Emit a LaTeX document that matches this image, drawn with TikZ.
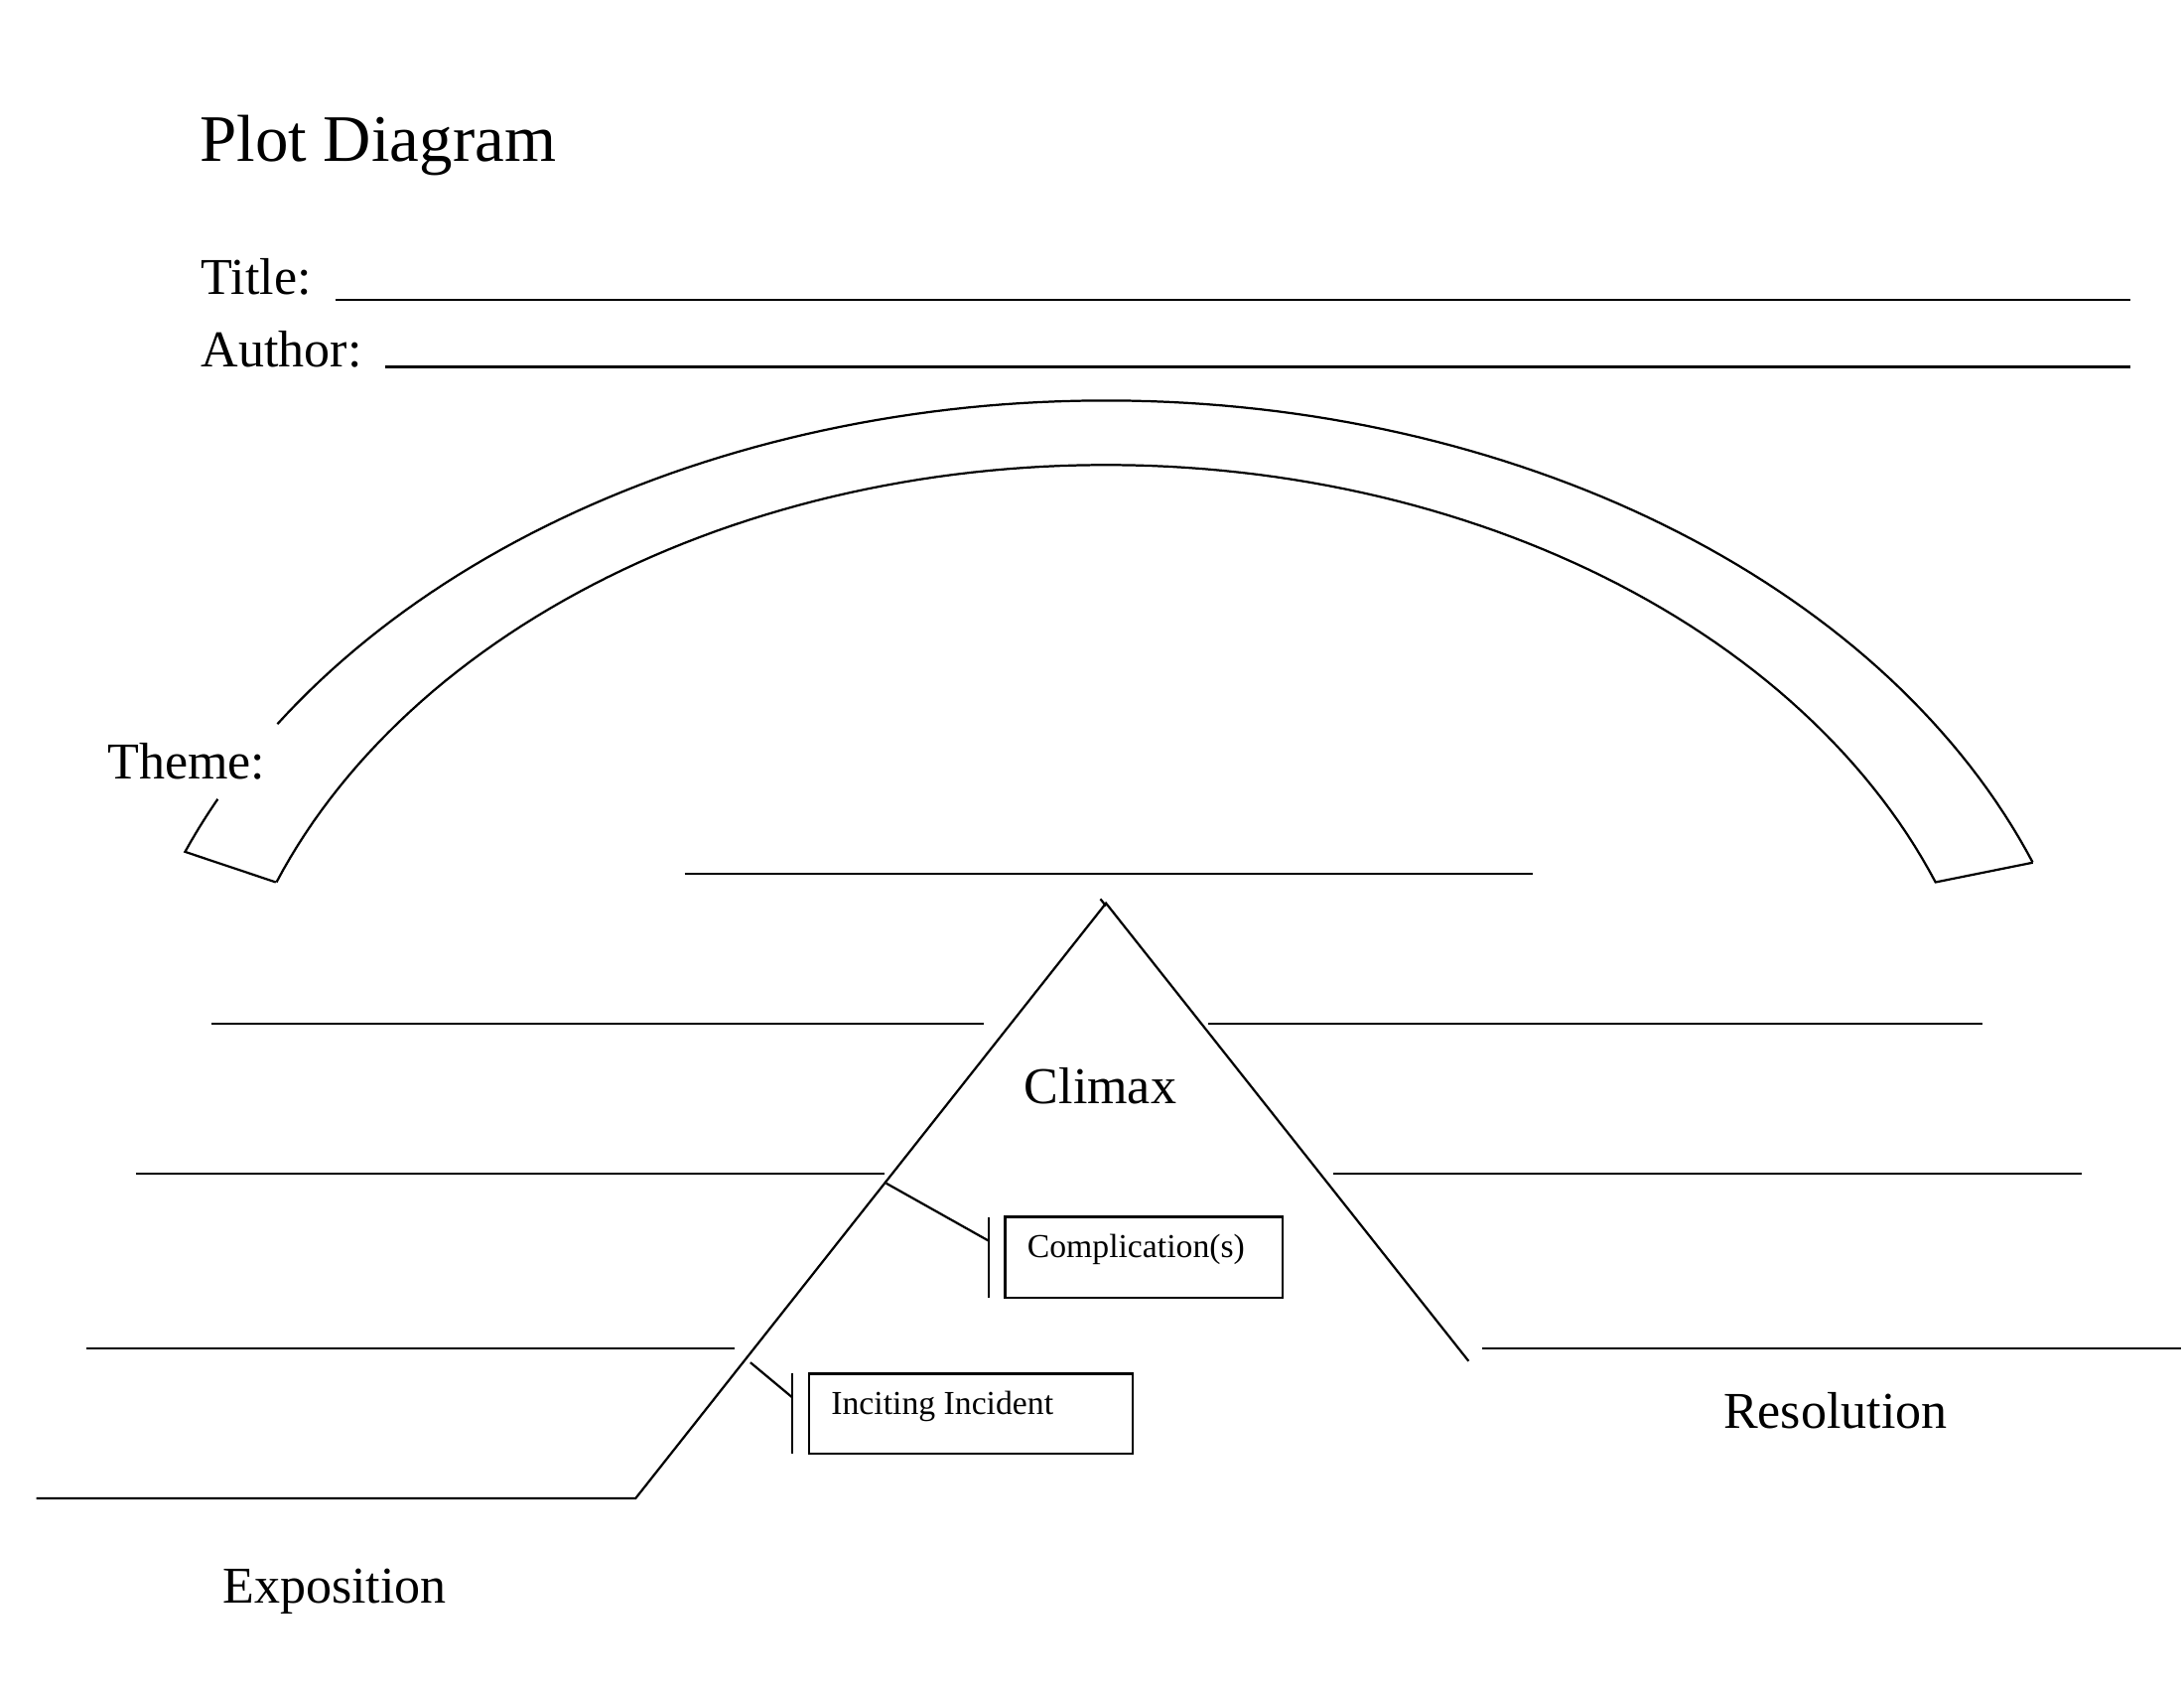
\documentclass[tikz,border=0pt]{standalone}
\usepackage{fontspec}
\setmainfont{Liberation Serif}
\begin{document}
\begin{tikzpicture}[x=0.1mm,y=-0.1mm,line width=0.45pt,
  lbl/.style={inner sep=0,font=\fontsize{10.5}{12}\selectfont},
  sm/.style={inner sep=0,font=\fontsize{6.8}{8}\selectfont},
  boxs/.style={draw,minimum width=0,inner sep=0}]
\useasboundingbox (0,0) rectangle (1560,1205);
\node[anchor=base west,inner sep=0,font=\fontsize{13.5}{16}\selectfont] (pd) at (142,115) {Plot Diagram};
\node[lbl,anchor=base west] (tl) at (143,210) {Title:};
\node[lbl,anchor=base west] (al) at (143,262) {Author:};
\node[lbl,anchor=base west] (th) at (76,556) {Theme:};
\draw (240,214) -- (1522,214);
\draw (275,262) -- (1522,262);
% arch
\draw[domain=21:146.6,samples=120,variable=\t] plot ({790+709*cos(\t)},{800-514*sin(\t)});
\draw[domain=153.5:158.1,samples=10,variable=\t] plot ({790+709*cos(\t)},{800-514*sin(\t)}) -- (197,630);
\draw[domain=158.7:21.3,samples=120,variable=\t] plot ({790+636*cos(\t)},{800-468*sin(\t)}) -- (1452,616);
% climax line
\draw (489,624) -- (1095,624);
% triangle
\coordinate (e0) at (26,1070); \coordinate (e1) at (454,1070);
\coordinate (ap) at (790,645); \coordinate (rs) at (1049,972);
\draw (e0) -- (e1) -- (ap) -- (rs);
\draw (786,642) -- (790,647);
% lines
\draw (151,731) -- (703,731); \draw (863,731) -- (1416,731);
\draw (97,838) -- (632,838); \draw (952,838) -- (1487,838);
\draw (62,963) -- (525,963); \draw (1059,963) -- (1558,963);
% boxes
\draw (718,869) rectangle (916,927);
\draw (706,869) -- (706,927);
\draw (633,845) -- (706,886);
\draw (578,981) rectangle (809,1038);
\draw (566,981) -- (566,1038);
\draw (536,973) -- (566,998);
\node[sm,anchor=base west] (cp) at (733,898) {Complication(s)};
\node[sm,anchor=base west] (ii) at (593,1010) {Inciting Incident};
\node[lbl,anchor=base] (cl) at (786,788) {Climax};
\node[lbl,anchor=base] (rl) at (1311,1020) {Resolution};
\node[lbl,anchor=base] (ex) at (239,1145) {Exposition};
\end{tikzpicture}
\end{document}
